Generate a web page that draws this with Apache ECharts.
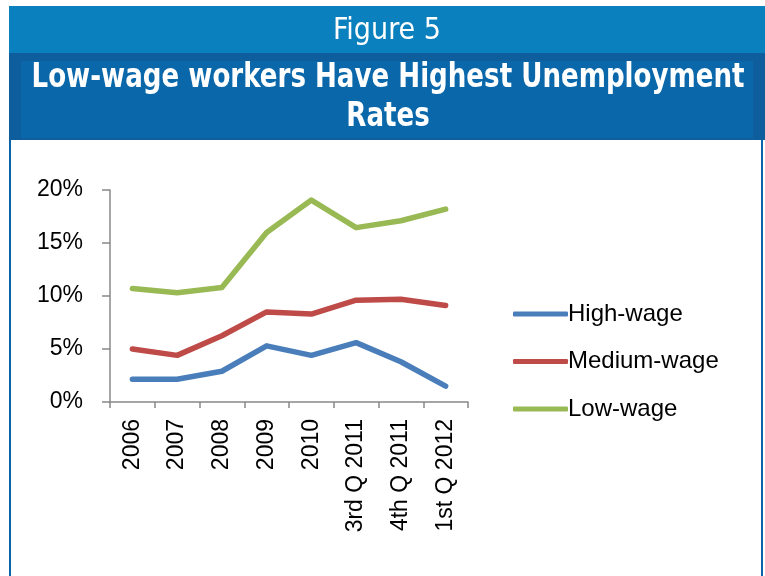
<!DOCTYPE html>
<html>
<head>
<meta charset="utf-8">
<script src="https://cdn.jsdelivr.net/npm/echarts@6/dist/echarts.min.js"></script>
<style>html,body{margin:0;padding:0;background:#fff}#c{width:765px;height:576px}</style>
</head>
<body>
<div id="c"></div>
<script>
const categories = ['2006','2007','2008','2009','2010','3rd Q 2011','4th Q 2011','1st Q 2012'];
const highWage = [2.15, 2.15, 2.9, 5.3, 4.4, 5.6, 3.8, 1.5];
const mediumWage = [5.0, 4.4, 6.25, 8.5, 8.3, 9.6, 9.7, 9.1];
const lowWage = [10.7, 10.3, 10.8, 16.0, 19.05, 16.45, 17.1, 18.2];
const seriesNames = ['High-wage', 'Medium-wage', 'Low-wage'];
const yTicks = [0, 5, 10, 15, 20];
const figureLabel = 'Figure 5';
const titleLine1 = 'Low-wage workers Have Highest Unemployment';
const titleLine2 = 'Rates';

const chart = echarts.init(document.getElementById('c'), null, {renderer: 'canvas'});
const axisFont = "'Liberation Sans', Arial, sans-serif";
const condFont = "'DejaVu Sans Condensed', 'Liberation Sans', sans-serif";
const colors = ['#4A7EBB', '#BE4B48', '#98B954'];

// scale condensed title text horizontally to match target widths
const mctx = document.createElement('canvas').getContext('2d');
function fitScale(text, font, targetW) {
  mctx.font = font;
  return targetW / mctx.measureText(text).width;
}
const titleFont = 'bold 33px ' + condFont;
const figFont = '30px ' + condFont;
const titleScale = fitScale(titleLine1, titleFont, 713);
const figScale = fitScale(figureLabel, figFont, 108);

chart.setOption({
  animation: false,
  backgroundColor: '#ffffff',
  graphic: [
    {type: 'rect', shape: {x: 9, y: 6, width: 756, height: 47}, style: {fill: '#0A80BF'}, z: 0},
    {type: 'rect', shape: {x: 9, y: 53, width: 756, height: 87}, style: {fill: '#0E5E9E'}, z: 0},
    {type: 'rect', shape: {x: 21, y: 61, width: 732, height: 77}, style: {fill: '#0967AA'}, z: 0},
    {type: 'rect', shape: {x: 9, y: 140, width: 2, height: 436}, style: {fill: '#0B64AA'}, z: 0},
    {type: 'rect', shape: {x: 761, y: 140, width: 2, height: 436}, style: {fill: '#0B64AA'}, z: 0},
    {type: 'text', x: 387, y: 31, scaleX: figScale, style: {text: figureLabel, fill: '#ffffff', font: figFont, textAlign: 'center', textVerticalAlign: 'middle'}, z: 5},
    {type: 'text', x: 388, y: 78, scaleX: titleScale, style: {text: titleLine1, fill: '#ffffff', font: titleFont, textAlign: 'center', textVerticalAlign: 'middle'}, z: 5},
    {type: 'text', x: 388, y: 117, scaleX: titleScale, style: {text: titleLine2, fill: '#ffffff', font: titleFont, textAlign: 'center', textVerticalAlign: 'middle'}, z: 5}
  ],
  grid: {left: 110, right: 297, top: 190, bottom: 174, containLabel: false},
  legend: {
    orient: 'vertical', left: 508, top: 297,
    itemWidth: 55, itemHeight: 5, itemGap: 23.5,
    icon: 'roundRect',
    textStyle: {fontFamily: axisFont, fontSize: 24, color: '#000', padding: [0, 0, 0, -5]},
    data: seriesNames
  },
  xAxis: {
    type: 'category', data: categories, boundaryGap: true,
    axisLine: {lineStyle: {color: '#888888', width: 1.5}},
    axisTick: {show: true, length: 6, interval: 0, lineStyle: {color: '#888888', width: 1.5}},
    axisLabel: {rotate: 90, interval: 0, margin: 17, fontFamily: axisFont, fontSize: 23, color: '#000'}
  },
  yAxis: {
    type: 'value', min: 0, max: 20, interval: 5,
    axisLine: {show: true, lineStyle: {color: '#888888', width: 1.5}},
    axisTick: {show: true, length: 8, lineStyle: {color: '#888888', width: 1.5}},
    splitLine: {show: false},
    axisLabel: {formatter: v => yTicks.includes(v) ? v + '%' : '', margin: 27, fontFamily: axisFont, fontSize: 23, color: '#000'}
  },
  series: [
    {name: seriesNames[0], type: 'line', data: highWage, color: colors[0], showSymbol: false, symbol: 'none', lineStyle: {width: 5.5, cap: 'round', join: 'round'}},
    {name: seriesNames[1], type: 'line', data: mediumWage, color: colors[1], showSymbol: false, symbol: 'none', lineStyle: {width: 5.5, cap: 'round', join: 'round'}},
    {name: seriesNames[2], type: 'line', data: lowWage, color: colors[2], showSymbol: false, symbol: 'none', lineStyle: {width: 5.5, cap: 'round', join: 'round'}}
  ]
});
</script>
</body>
</html>
